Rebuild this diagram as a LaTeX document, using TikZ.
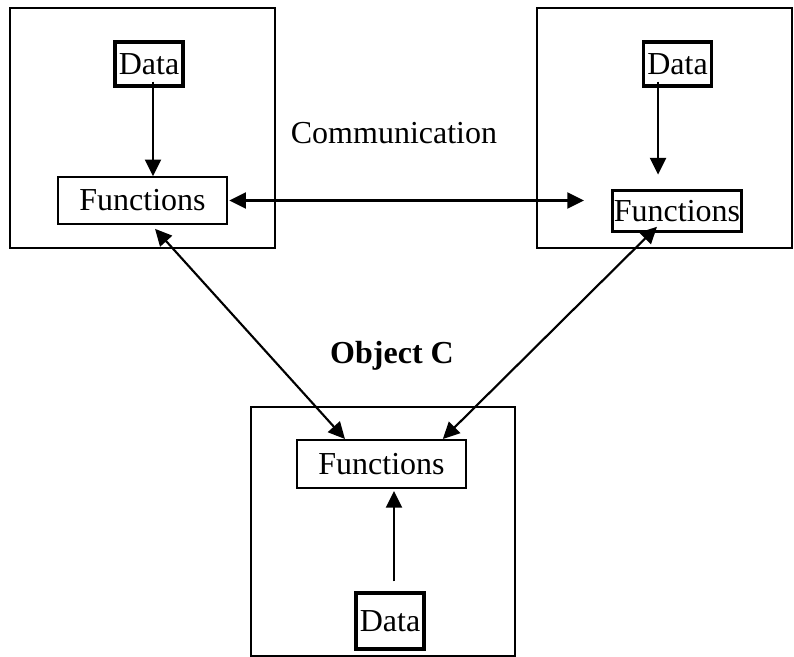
\documentclass[tikz,border=0pt]{standalone}
\usepackage{fontspec}
\setmainfont{Liberation Serif}
\usetikzlibrary{arrows.meta}

\tikzset{
    txt/.style={font=\fontsize{24}{28}\selectfont, inner sep=0pt},
    thinbox/.style={txt, draw, line width=1.5pt},
    thickbox/.style={txt, draw, line width=2.6pt},
    arr/.style={line width=1.6pt, -{Triangle[length=12.5pt,width=12pt]}},
    darr/.style={line width=1.6pt, {Triangle[length=12.5pt,width=12pt]}-{Triangle[length=12.5pt,width=12pt]}}
}

\begin{document}
\begin{tikzpicture}[x=0.75pt,y=-0.75pt]
        \useasboundingbox (0,0) rectangle (794,657);
        % the three objects
        \draw[line width=1.5pt] (10,8) rectangle (275,248);
        \draw[line width=1.5pt] (537,8) rectangle (792,248);
        \draw[line width=1.5pt] (251,407) rectangle (515,656);
        \node[thickbox, minimum width=51pt, minimum height=33pt] (DataA) at (149,64) {Data};
        \node[thinbox, minimum width=127pt, minimum height=35pt] (FuncA) at (142.5,200.5) {Functions};
        \node[thickbox, minimum width=51pt, minimum height=33pt] (DataB) at (677.5,64) {Data};
        \node[thickbox, minimum width=97pt, minimum height=31pt] (FuncB) at (677,211) {Functions};
        \node[thinbox, minimum width=127pt, minimum height=36pt] (FuncC) at (381.5,464) {Functions};
        \node[thickbox, minimum width=51pt, minimum height=42pt] (DataC) at (390,621) {Data};
        \node[txt] (comm) at (394,133) {Communication};
        \node[txt, font=\fontsize{24}{28}\selectfont\bfseries] (objC) at (392,356) {Object C};
        % links
        \draw[arr] ([xshift=3pt,yshift=4.5pt]DataA.south) -- ([xshift=3pt]DataA.south |- FuncA.north);
        \draw[arr, shorten >=10.5pt] ([xshift=-14.6pt,yshift=4.5pt]DataB.south) -- ([xshift=-14.6pt]DataB.south |- FuncB.north);
        \draw[arr] ([xshift=3pt,yshift=7.5pt]DataC.north) -- ([xshift=3pt,yshift=-1.5pt]DataC.north |- FuncC.south);
        \draw[darr] ([xshift=0.8pt]FuncA.east) -- ([xshift=-20pt]FuncA.east -| FuncB.west);
        \draw[darr] ([xshift=9.4pt,yshift=-3pt]FuncA.south) -- ([xshift=-27.4pt]FuncC.north);
        \draw[darr] ([xshift=46pt]FuncC.north) -- ([xshift=-15pt,yshift=5pt]FuncB.south);
\end{tikzpicture}
\end{document}
